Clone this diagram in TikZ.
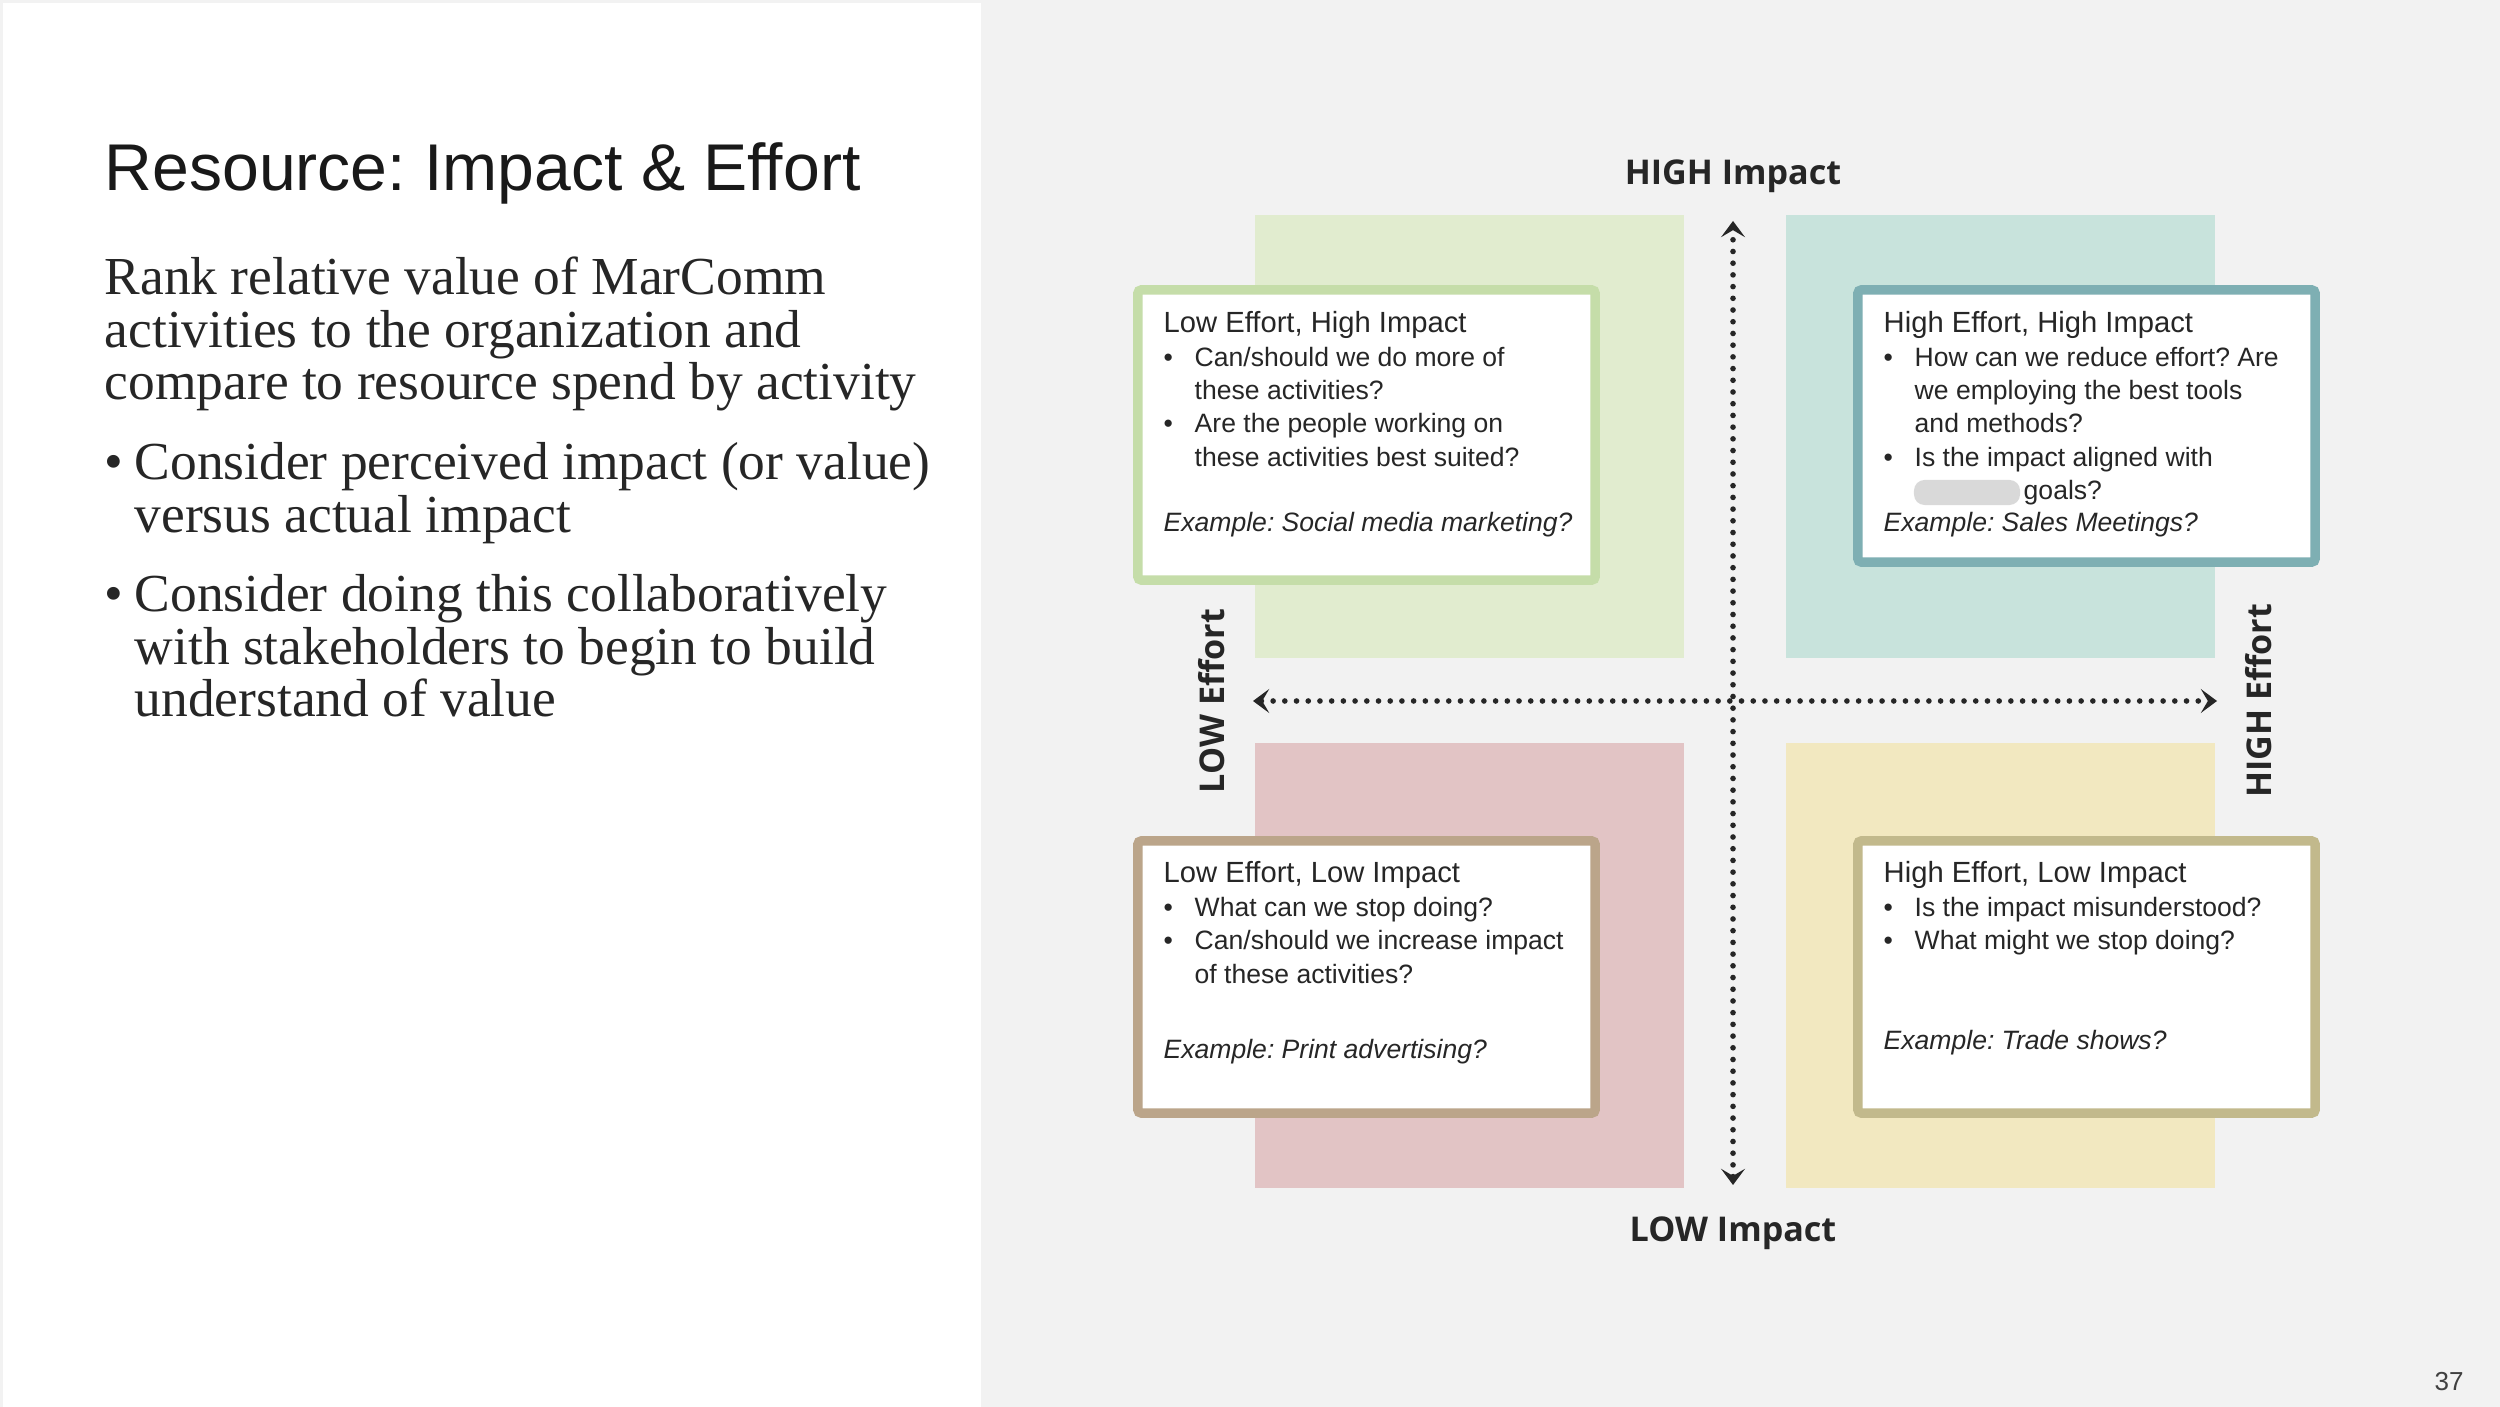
\documentclass[tikz,border=0pt]{standalone}
\usepackage{fontspec}
\setmainfont{Liberation Sans}
\newfontfamily\serifface{Liberation Serif}
\newfontfamily\axisface{Open Sans}
\usetikzlibrary{arrows.meta}
\frenchspacing
\definecolor{pagegray}{HTML}{F2F2F2}
\definecolor{textdark}{HTML}{262626}
\definecolor{greenbg}{HTML}{E1ECCF}
\definecolor{greenln}{HTML}{C5DDA9}
\definecolor{tealbg}{HTML}{C8E3DC}
\definecolor{tealln}{HTML}{7EAFB3}
\definecolor{pinkbg}{HTML}{E2C4C5}
\definecolor{tanln}{HTML}{BBA58A}
\definecolor{yellowbg}{HTML}{F2E8C0}
\definecolor{khakiln}{HTML}{C2B98C}
\definecolor{blurgray}{HTML}{D9D9D9}
\begin{document}
\begin{tikzpicture}[x=0.01cm,y=-0.01cm,
  txt/.style={anchor=base west,inner sep=0pt,text=textdark},
  boxtitle/.style={txt,font=\fontsize{8.3pt}{10pt}\selectfont},
  boxbody/.style={txt,font=\fontsize{7.55pt}{9pt}\selectfont},
  boxex/.style={txt,font=\fontsize{7.55pt}{9pt}\selectfont\itshape},
  serifline/.style={txt,font=\serifface\fontsize{15.2pt}{15pt}\selectfont},
  axislabel/.style={anchor=base,inner sep=0pt,text=textdark,font=\axisface\bfseries\fontsize{9.7pt}{11pt}\selectfont},
  quadbox/.style={draw,line width=2.7pt,fill=white,rounded corners=1pt,minimum width=4.57cm,inner sep=0pt},
  axisline/.style={line width=1.6pt,line cap=round,dash pattern=on 0pt off 3.33pt,textdark,{Stealth[length=4.6pt,width=6.8pt,inset=2pt]}-{Stealth[length=4.6pt,width=6.8pt,inset=2pt]}}
]
\useasboundingbox (0,0) rectangle (2500,1407);
\fill[pagegray] (0,0) rectangle (2500,1407);
\fill[white] (3,3) rectangle (981,1407);

% left text
\node[txt,font=\fontsize{18.8pt}{22pt}\selectfont,text=black!90] (title) at (104,191) {Resource: Impact \& Effort};
\node[serifline] (l1) at (104,295) {Rank relative value of MarComm};
\node[serifline] (l2) at (104,348) {activities to the organization and};
\node[serifline] (l3) at (104,400) {compare to resource spend by activity};
\node[serifline] (b1) at (104,480) {\textbullet};
\node[serifline] (l4) at (134,480) {Consider perceived impact (or value)};
\node[serifline] (l5) at (134,533) {versus actual impact};
\node[serifline] (b2) at (104,612) {\textbullet};
\node[serifline] (l6) at (134,612) {Consider doing this collaboratively};
\node[serifline] (l7) at (134,665) {with stakeholders to begin to build};
\node[serifline] (l8) at (134,717) {understand of value};

% quadrant backgrounds
\fill[greenbg] (1255,215) rectangle (1684,658);
\fill[tealbg] (1786,215) rectangle (2215,658);
\fill[pinkbg] (1255,743) rectangle (1684,1188);
\fill[yellowbg] (1786,743) rectangle (2215,1188);

% axes
\coordinate (vtop) at (1733,221);
\coordinate (vbot) at (1733,1185);
\coordinate (hleft) at (1253,701);
\coordinate (hright) at (2217,701);
\draw[axisline] (vbot) -- (vtop);
\draw[axisline] (hleft) -- (hright);
\node[axislabel] (hiimp) at (1733,185) {HIGH Impact};
\node[axislabel] (loimp) at (1733,1241) {LOW Impact};
\node[axislabel,rotate=90] (loeff) at (1224,701) {LOW Effort};
\node[axislabel,rotate=90] (hieff) at (2271,701) {HIGH Effort};

% boxes
\node[quadbox,draw=greenln,minimum height=2.90cm] (tlbox) at (1366.5,435) {};
\node[quadbox,draw=tealln,minimum height=2.72cm] (trbox) at (2086.5,426) {};
\node[quadbox,draw=tanln,minimum height=2.72cm] (blbox) at (1366.5,977) {};
\node[quadbox,draw=khakiln,minimum height=2.72cm] (brbox) at (2086.5,977) {};

% TL text
\node[boxtitle] (tlt) at (1163,333) {Low Effort, High Impact};
\node[boxbody] (tlb1) at (1163,367) {\textbullet};
\node[boxbody] (tl1) at (1194,367) {Can/should we do more of};
\node[boxbody] (tl2) at (1194,400) {these activities?};
\node[boxbody] (tlb2) at (1163,433) {\textbullet};
\node[boxbody] (tl3) at (1194,433) {Are the people working on};
\node[boxbody] (tl4) at (1194,467) {these activities best suited?};
\node[boxex] (tlex) at (1163,532) {Example: Social media marketing?};

% TR text
\node[boxtitle] (trt) at (1883,333) {High Effort, High Impact};
\node[boxbody] (trb1) at (1883,367) {\textbullet};
\node[boxbody] (tr1) at (1914,367) {How can we reduce effort? Are};
\node[boxbody] (tr2) at (1914,400) {we employing the best tools};
\node[boxbody] (tr3) at (1914,433) {and methods?};
\node[boxbody] (trb2) at (1883,467) {\textbullet};
\node[boxbody] (tr4) at (1914,467) {Is the impact aligned with};
\node[fill=blurgray,rounded corners=3pt,inner sep=0pt,minimum width=1.06cm,minimum height=0.25cm] (blur) at (1967,492.5) {};
\node[boxbody] (tr5) at (2023,500) {goals?};
\node[boxex] (trex) at (1883,532) {Example: Sales Meetings?};

% BL text
\node[boxtitle] (blt) at (1163,883) {Low Effort, Low Impact};
\node[boxbody] (blb1) at (1163,917) {\textbullet};
\node[boxbody] (bl1) at (1194,917) {What can we stop doing?};
\node[boxbody] (blb2) at (1163,950) {\textbullet};
\node[boxbody] (bl2) at (1194,950) {Can/should we increase impact};
\node[boxbody] (bl3) at (1194,983) {of these activities?};
\node[boxex] (blex) at (1163,1058) {Example: Print advertising?};

% BR text
\node[boxtitle] (brt) at (1883,883) {High Effort, Low Impact};
\node[boxbody] (brb1) at (1883,917) {\textbullet};
\node[boxbody] (br1) at (1914,917) {Is the impact misunderstood?};
\node[boxbody] (brb2) at (1883,950) {\textbullet};
\node[boxbody] (br2) at (1914,950) {What might we stop doing?};
\node[boxex] (brex) at (1883,1050) {Example: Trade shows?};

% page number
\node[anchor=base,inner sep=0pt,text=black!75,font=\fontsize{7.4pt}{9pt}\selectfont] (pgnum) at (2449,1390) {37};
\end{tikzpicture}
\end{document}
